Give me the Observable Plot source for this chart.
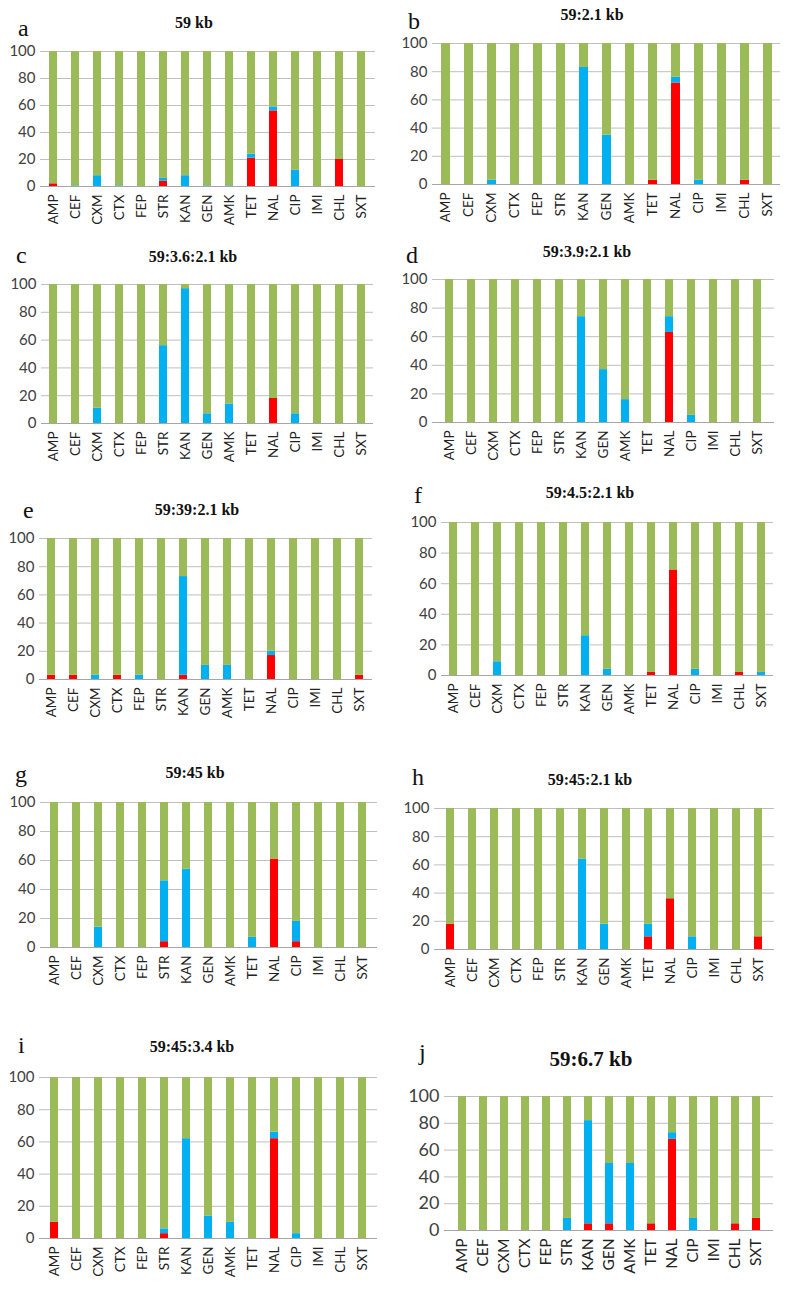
<!DOCTYPE html>
<html><head><meta charset="utf-8">
<script src="https://cdn.jsdelivr.net/npm/d3@7"></script>
<script src="https://cdn.jsdelivr.net/npm/@observablehq/plot@0.6"></script>
<style>
body{margin:0;background:#fff;}
#root{position:relative;width:788px;height:1289px;overflow:hidden;background:#fff;}
.ttl{position:absolute;font-family:"Liberation Serif","DejaVu Serif",serif;font-weight:bold;white-space:nowrap;transform:translateX(-50%);line-height:1;color:#111;}
.let{position:absolute;font-family:"Liberation Serif","DejaVu Serif",serif;line-height:1;color:#111;}
.pn{position:absolute;}
</style></head><body><div id="root"></div>
<script>
const categories = ["AMP","CEF","CXM","CTX","FEP","STR","KAN","GEN","AMK","TET","NAL","CIP","IMI","CHL","SXT"];
const titles = ["59 kb","59:2.1 kb","59:3.6:2.1 kb","59:3.9:2.1 kb","59:39:2.1 kb","59:4.5:2.1 kb","59:45 kb","59:45:2.1 kb","59:45:3.4 kb","59:6.7 kb"];
const letters = ["a","b","c","d","e","f","g","h","i","j"];
const yTicks = [0,20,40,60,80,100];
const statuses = ["R","I","S"];

const resA = [2,0,0,0,0,4,0,0,0,21,56,0,0,20,0];
const intA = [0,0.5,8,0.5,0,2,8,0.5,0.5,3,3,12,0,0,0];
const resB = [0,0,0,0,0,0,0,0,0,3,72,0,0,3,0];
const intB = [0,0,3,0,0,0,83,35,0,0,4,3,0,0,0];
const resC = [0,0,0,0,0,0,0,0,0,0,18,0,0,0,0];
const intC = [0,0,11,0,0,56,97,7,14,0,0,7,0,0,0];
const resD = [0,0,0,0,0,0,0,0,0,0,63,0,0,0,0];
const intD = [0,0,0,0,0,0,74,37,16,0,11,5,0,0,0];
const resE = [3,3,0,3,0,0,3,0,0,0,17,0,0,0,3];
const intE = [0,0,3,0,3,0,70,10,10,0,3,0,0,0,0];
const resF = [0,0,0,0,0,0,0,0,0,2,69,0,0,2,0];
const intF = [0,0,9,0,0,0,26,4,0,0,0,4,0,0,2];
const resG = [0,0,0,0,0,4,0,0,0,0,61,4,0,0,0];
const intG = [0,0,14,0,0,42,54,0,0,7,0,14,0,0,0];
const resH = [18,0,0,0,0,0,0,0,0,9,36,0,0,0,9];
const intH = [0,0,0,0,0,0,64,18,0,9,0,9,0,0,0];
const resI = [10,0,0,0,0,3,0,0,0,0,62,0,0,0,0];
const intI = [0,0,0,0,0,3,62,14,10,0,4,3,0,0,0];
const resJ = [0,0,0,0,0,0,5,5,0,5,68,0,0,5,9];
const intJ = [0,0,0,0,0,9,77,45,50,0,5,9,0,0,0];

const resAll = [resA,resB,resC,resD,resE,resF,resG,resH,resI,resJ];
const intAll = [intA,intB,intC,intD,intE,intF,intG,intH,intI,intJ];

// layout: side, plotLeft, plotRight, plotTop, plotBottom, titleX, titleBaseline, letterX, letterBaseline, big
const layout = [
  [0,40,375,51,186,194,28,18,36,false],
  [394,432,780,43,184,592,20,408,29,false],
  [0,41,373,284,423,193,262,16,263,false],
  [394,432,774,279,422,587,257,406,263,false],
  [0,39,372,538,679,197,515,23,518,false],
  [394,441,773,522,675,590,498,414,503,false],
  [0,40,377,802,947,195,778,15,782,false],
  [394,434,774,808,949,590,785,412,785,false],
  [0,39,377,1077,1238,192,1052,18,1053,false],
  [394,444,773,1096,1230,591,1067,419,1060,true]
];

const root = document.getElementById("root");
const colors = ["#FF0000","#00B0F0","#9BBB59"];

layout.forEach((L, k) => {
  const [side, pl, pr, pt, pb, tx, tb, lx, lb, big] = L;
  const rows = [];
  categories.forEach((c, i) => {
    const r = resAll[k][i], m = intAll[k][i];
    rows.push({cat: c, status: "R", value: r});
    rows.push({cat: c, status: "I", value: m});
    rows.push({cat: c, status: "S", value: 100 - r - m});
  });
  const topPad = 12, botPad = 58;
  const tickFs = big ? 18 : 15;
  const catFs = big ? 15.5 : 13.5;
  const chart = Plot.plot({
    width: 394,
    height: (pb - pt) + topPad + botPad,
    marginLeft: pl - side,
    marginRight: side + 394 - pr,
    marginTop: topPad,
    marginBottom: botPad,
    style: {fontFamily: "Lato, sans-serif", color: "#333", background: "transparent"},
    x: {domain: categories, paddingInner: 0.62, paddingOuter: 0.31, axis: null},
    y: {domain: [0, 100], axis: null},
    color: {domain: statuses, range: colors},
    marks: [
      Plot.gridY(yTicks, {stroke: "#BFBFBF", strokeOpacity: 1, strokeWidth: 1}),
      Plot.barY(rows, {x: "cat", y: "value", fill: "status", order: statuses}),
      Plot.ruleY([0], {stroke: "#A6A6A6", strokeWidth: 1}),
      Plot.axisY(yTicks, {label: null, tickSize: 0, tickPadding: 5, fontSize: tickFs, fill: "#404040", tickFormat: d => String(d)}),
      Plot.axisX({label: null, tickRotate: -90, tickSize: 0, tickPadding: 8, fontSize: catFs, fill: "#222"})
    ]
  });
  chart.classList.add("pn");
  chart.style.left = side + "px";
  chart.style.top = (pt - topPad) + "px";
  root.appendChild(chart);

  const tfs = big ? 21 : 16;
  const t = document.createElement("div");
  t.className = "ttl";
  t.textContent = titles[k];
  t.style.fontSize = tfs + "px";
  t.style.left = tx + "px";
  t.style.top = (tb - 0.837 * tfs) + "px";
  root.appendChild(t);

  const lfs = 24;
  const l = document.createElement("div");
  l.className = "let";
  l.textContent = letters[k];
  l.style.fontSize = lfs + "px";
  l.style.left = lx + "px";
  l.style.top = (lb - 0.837 * lfs) + "px";
  root.appendChild(l);
});
</script></body></html>
